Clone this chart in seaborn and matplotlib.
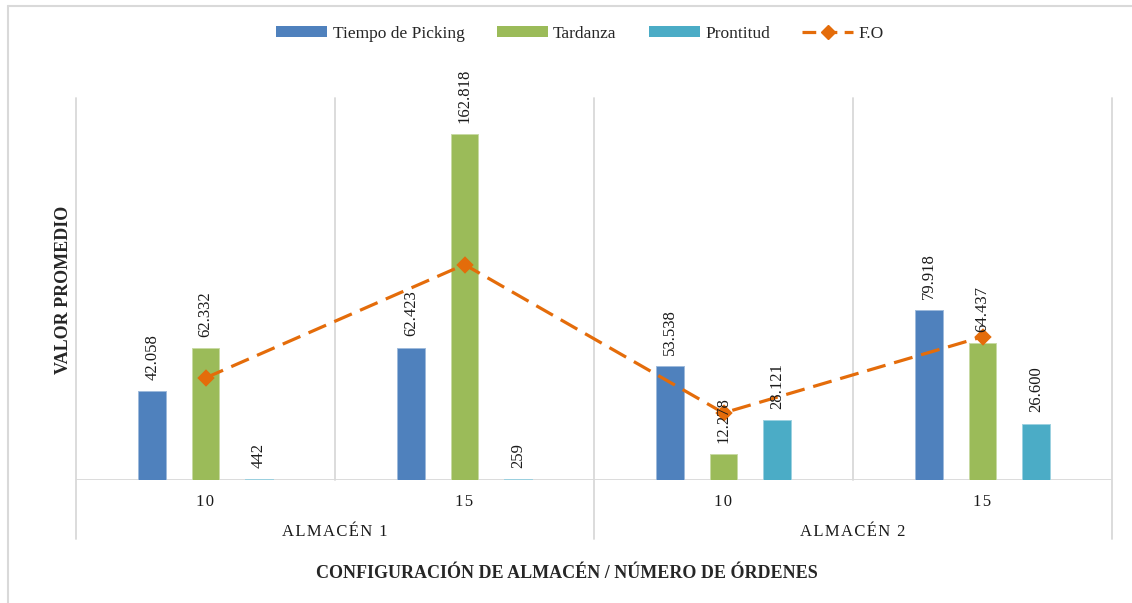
import numpy as np
import pandas as pd
import seaborn as sns
import matplotlib
matplotlib.use("Agg")
import matplotlib.pyplot as plt
from matplotlib.patches import Patch
from matplotlib.lines import Line2D
import matplotlib.transforms as mtransforms

# ---- data -------------------------------------------------------------
almacenes = ["ALMACÉN 1", "ALMACÉN 2"]
ordenes = ["10", "15", "10", "15"]
grupo_de_cada_config = [0, 0, 1, 1]
series = ["Tiempo de Picking", "Tardanza", "Prontitud"]
tiempo_picking = [42058, 62423, 53538, 79918]
tardanza = [62332, 162818, 12278, 64437]
prontitud = [442, 259, 28121, 26600]
fo = [48100, 101500, 31600, 67500]

colores = ["#4F81BD", "#9BBB59", "#4BACC6"]
color_fo = "#E46C0A"
gris = "#D9D9D9"

W, H = 1132, 603
sns.set_theme(style="white")
serif = ["Liberation Serif", "DejaVu Serif"]
plt.rcParams["font.family"] = serif

claves = [f"{almacenes[g]}|{o}|{i}" for i, (g, o) in enumerate(zip(grupo_de_cada_config, ordenes))]
df = pd.DataFrame({
    "config": claves * 3,
    "serie": np.repeat(series, len(claves)),
    "valor": tiempo_picking + tardanza + prontitud,
})
df_fo = pd.DataFrame({"config": claves, "fo": fo})

fig = plt.figure(figsize=(W / 100, H / 100), dpi=100)
ax = fig.add_axes([76 / W, 1 - 480 / H, (1112 - 76) / W, (480 - 98) / H])

sns.barplot(data=df, x="config", y="valor", hue="serie", order=claves,
            hue_order=series, palette=colores, width=0.618, gap=0.476,
            saturation=1, linewidth=0, errorbar=None,
            legend=False, ax=ax)

# light outline on each bar
for cont, c in zip(ax.containers, colores):
    for rect in cont:
        rect.set_edgecolor(matplotlib.colors.to_hex(
            np.array(matplotlib.colors.to_rgb(c)) * 0.55 + 0.45))
        rect.set_linewidth(0.7)

sns.pointplot(data=df_fo, x="config", y="fo", order=claves, color=color_fo,
              markers="D", linestyles="--", errorbar=None, ax=ax,
              markersize=7, linewidth=2.3, dashes=(6, 2.8))

# value labels above each bar
for cont in ax.containers:
    if not hasattr(cont, "patches") or cont.patches is None:
        continue
    for rect in cont:
        v = rect.get_height()
        txt = f"{int(round(v)):,}".replace(",", ".")
        ax.annotate(txt, (rect.get_x() + rect.get_width() / 2, v),
                    xytext=(0, 8), textcoords="offset points",
                    rotation=90, ha="center", va="bottom",
                    fontsize=12, color="#1a1a1a", family=serif)

ax.set_xlim(-0.5, len(claves) - 0.5)
ax.set_ylim(0, 180000)
ax.set_yticks([])
ax.set_xlabel("")
ax.set_ylabel("")
for s in ax.spines.values():
    s.set_visible(False)

ax.set_xticks(range(len(claves)))
ax.set_xticklabels(["\u200a".join(o) for o in ordenes], fontsize=12, color="#1a1a1a")
ax.tick_params(axis="x", length=0, pad=10)

# baseline and category separators
ax.axhline(0, color=gris, lw=1.3, zorder=0.5)
trans = mtransforms.blended_transform_factory(ax.transData, ax.transAxes)
for xb in np.arange(-0.5, len(claves), 1.0):
    ext = (xb - (-0.5)) % 2 == 0
    ax.plot([xb, xb], [-0.1545 if ext else 0, 1], transform=trans, color=gris,
            lw=1.3, clip_on=False, zorder=0.5)

# second level category labels
for g, nombre in enumerate(almacenes):
    ax.text(2 * g + 0.5, -0.137, "\u200a".join(nombre), transform=trans,
            ha="center", va="center", fontsize=12, color="#1a1a1a", family=serif)

fig.text(567 / W, 1 - 574 / H, "CONFIGURACIÓN DE ALMACÉN / NÚMERO DE ÓRDENES",
         ha="center", va="center", fontsize=13, fontweight="bold", family=serif)
fig.text(63 / W, 1 - 290 / H, "VALOR PROMEDIO", rotation=90,
         ha="center", va="center", fontsize=13, fontweight="bold", family=serif)

handles = [Patch(facecolor=c, edgecolor="none") for c in colores]
handles.append(Line2D([0], [0], color=color_fo, lw=2.3, linestyle=(0, (4.3, 2.3)),
                      marker="D", markersize=7))
fig.legend(handles, series + ["F.O"], loc="center", ncol=4,
           bbox_to_anchor=(580 / W, 1 - 34 / H), frameon=False,
           fontsize=12.5, handlelength=2.95, handleheight=0.6,
           handletextpad=0.3, columnspacing=1.85, numpoints=1)

# chart area frame
fig.add_artist(Line2D([8 / W, 1], [1 - 6 / H, 1 - 6 / H], color=gris, lw=1.5))
fig.add_artist(Line2D([8 / W, 8 / W], [1 - 6 / H, 0], color=gris, lw=1.5))

fig.savefig("out.png", dpi=100, facecolor="white")
